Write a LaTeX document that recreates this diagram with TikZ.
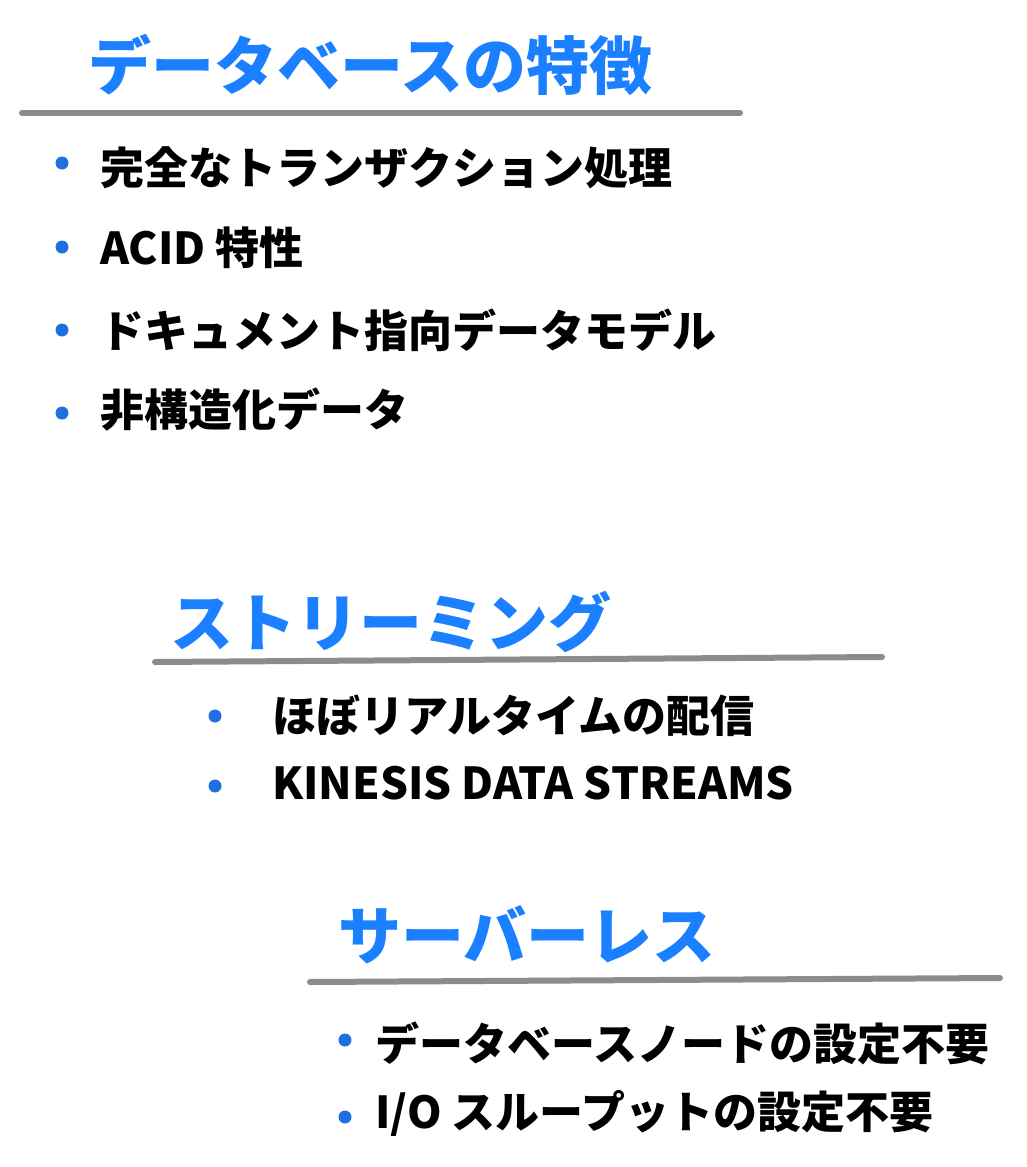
\documentclass[tikz,border=0pt]{standalone}
\usepackage{fontspec}
\setmainfont{Noto Sans CJK JP}
\usetikzlibrary{positioning}
\definecolor{headblue}{HTML}{1A80FF}
\definecolor{rulegray}{HTML}{8A8C90}
\definecolor{dotblue}{HTML}{1F6FE0}
\tikzset{
  heading/.style={anchor=west,inner sep=0pt,text=headblue,font=\bfseries\fontsize{63}{63}\selectfont},
  item/.style={anchor=west,inner sep=0pt,font=\bfseries\fontsize{44}{44}\selectfont},
  dot/.style={circle,fill=dotblue,inner sep=0pt,minimum size=13pt},
  headrule/.style={rulegray,line width=6pt,line cap=round}
}
\begin{document}
\begin{tikzpicture}[x=1pt,y=-1pt]
  \useasboundingbox[fill=white] (0,0) rectangle (1026,1167);
  % section 1
  \node[heading] (h1) at (88,65) {データベースの特徴};
  \coordinate (r1a) at (22,113);
  \coordinate (r1b) at (740,113);
  \draw[headrule] (r1a) -- (r1b);
  \node[dot] (d1) at (62,163) {};
  \node[dot] (d2) at (62,247) {};
  \node[dot] (d3) at (62,330) {};
  \node[dot] (d4) at (62,413) {};
  \node[item] (t1) at (100,168) {完全なトランザクション処理};
  \node[item] (t2) at (100,248) {ACID 特性};
  \node[item] (t3) at (100,330) {ドキュメント指向データモデル};
  \node[item] (t4) at (100,410) {非構造化データ};
  % section 2
  \node[heading] (h2) at (170,622) {ストリーミング};
  \coordinate (r2a) at (155,662);
  \coordinate (r2b) at (882,657);
  \draw[headrule] (r2a) -- (r2b);
  \node[dot] (d5) at (215,716) {};
  \node[dot] (d6) at (215,786) {};
  \node[item] (t5) at (272,716) {ほぼリアルタイムの配信};
  \node[item] (t6) at (272,783) {KINESIS DATA STREAMS};
  % section 3
  \node[heading] (h3) at (338,935) {サーバーレス};
  \coordinate (r3a) at (310,982);
  \coordinate (r3b) at (1000,978);
  \draw[headrule] (r3a) -- (r3b);
  \node[dot] (d7) at (345,1040) {};
  \node[dot] (d8) at (345,1117) {};
  \node[item] (t7) at (375,1043) {データベースノードの設定不要};
  \node[item] (t8) at (375,1113) {I/O スループットの設定不要};
\end{tikzpicture}
\end{document}
